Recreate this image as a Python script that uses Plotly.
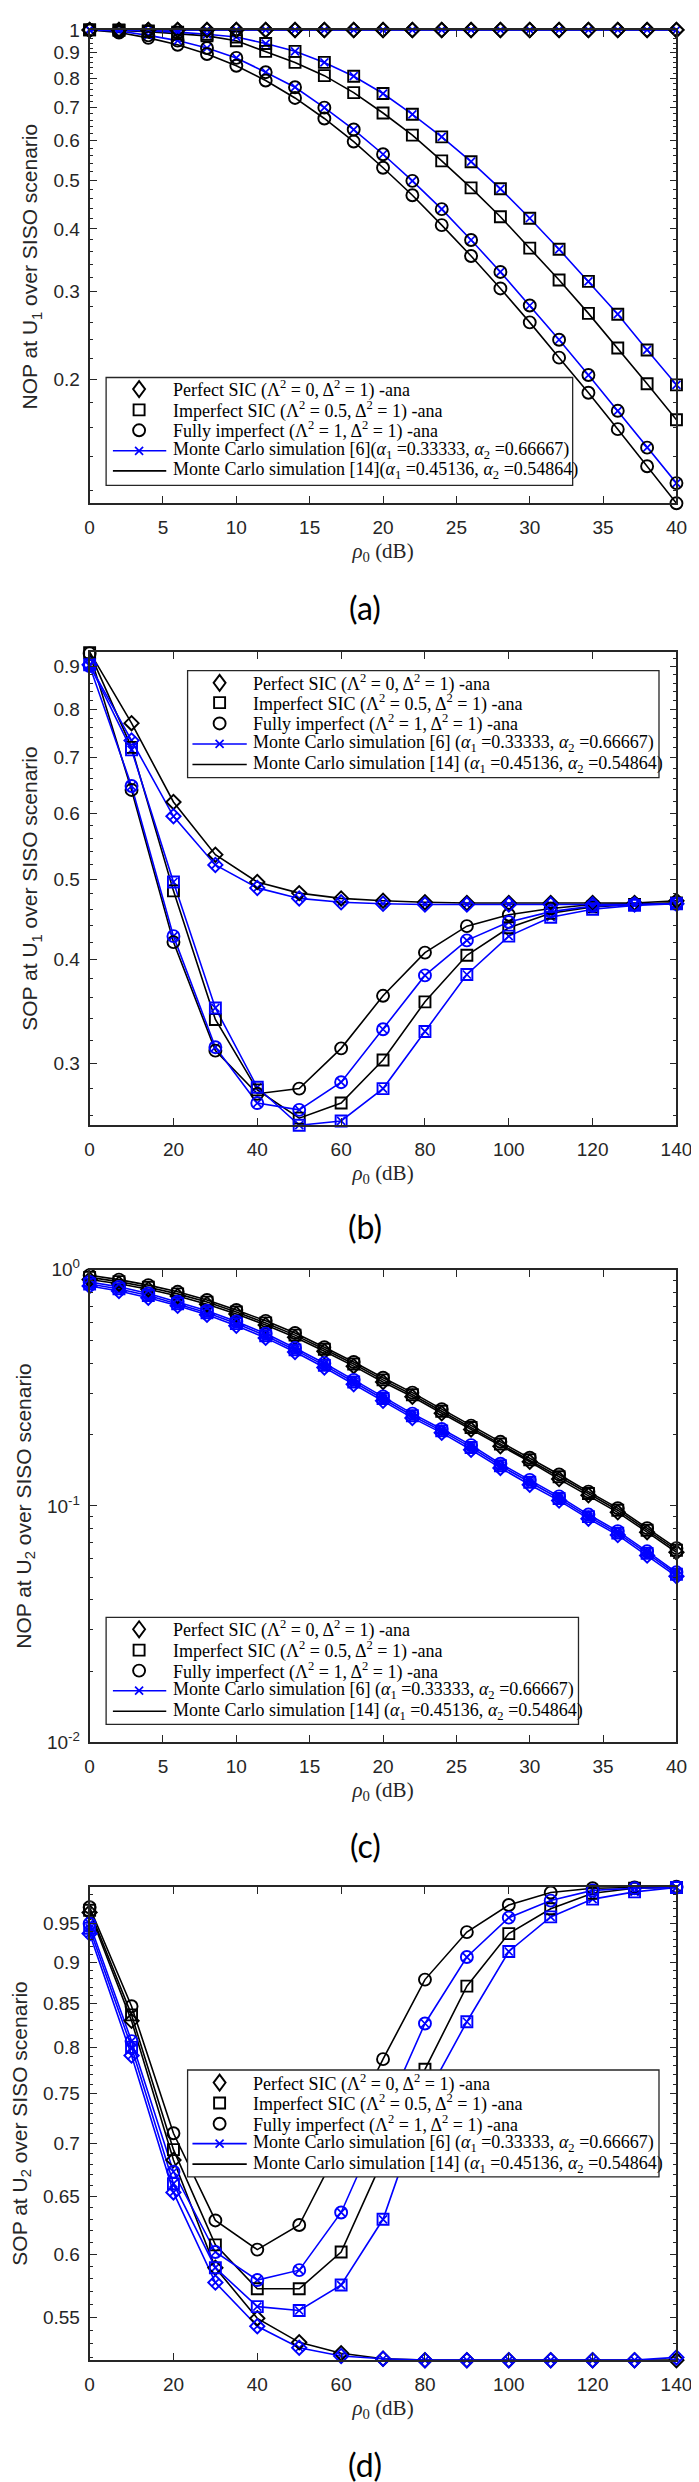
import math
import plotly.graph_objects as go

W, H = 699, 2482

# ---------------- data ----------------
# (a) NOP at U1, x = rho0 (dB)
x_a = [0, 2, 4, 6, 8, 10, 12, 14, 16, 18, 20, 22, 24, 26, 28, 30, 32, 34, 36, 38, 40]
a_perfect_14 = [1.0, 1.0, 1.0, 1.0, 1.0, 1.0, 1.0, 1.0, 1.0, 1.0, 1.0, 1.0, 1.0, 1.0, 1.0, 1.0, 1.0, 1.0, 1.0, 1.0, 1.0]
a_perfect_6 = [1.0, 1.0, 1.0, 1.0, 1.0, 1.0, 1.0, 1.0, 1.0, 1.0, 1.0, 1.0, 1.0, 1.0, 1.0, 1.0, 1.0, 1.0, 1.0, 1.0, 1.0]
a_imperf_14 = [1.0, 0.998, 0.992, 0.983, 0.973, 0.951, 0.906, 0.861, 0.810, 0.749, 0.682, 0.616, 0.547, 0.483, 0.423, 0.366, 0.316, 0.271, 0.231, 0.196, 0.166]
a_imperf_6 = [1.0, 1.0, 0.995, 0.990, 0.980, 0.968, 0.939, 0.906, 0.861, 0.808, 0.746, 0.678, 0.611, 0.545, 0.481, 0.420, 0.364, 0.314, 0.270, 0.229, 0.195]
a_fully_14 = [1.0, 0.988, 0.964, 0.934, 0.895, 0.848, 0.792, 0.731, 0.665, 0.598, 0.530, 0.467, 0.407, 0.353, 0.304, 0.260, 0.221, 0.188, 0.159, 0.134, 0.113]
a_fully_6 = [1.0, 0.995, 0.975, 0.952, 0.920, 0.879, 0.823, 0.768, 0.699, 0.632, 0.564, 0.499, 0.438, 0.380, 0.328, 0.281, 0.240, 0.204, 0.173, 0.146, 0.124]

# (b) SOP at U1
x_b = [0, 10, 20, 30, 40, 50, 60, 70, 80, 90, 100, 110, 120, 130, 140]
b_perfect_14 = [0.938, 0.770, 0.619, 0.535, 0.496, 0.481, 0.474, 0.471, 0.469, 0.468, 0.468, 0.468, 0.468, 0.468, 0.471]
b_perfect_6 = [0.905, 0.734, 0.595, 0.520, 0.488, 0.474, 0.469, 0.467, 0.466, 0.466, 0.466, 0.466, 0.466, 0.466, 0.467]
b_imperf_14 = [0.936, 0.720, 0.484, 0.339, 0.279, 0.258, 0.269, 0.303, 0.356, 0.405, 0.437, 0.455, 0.463, 0.466, 0.468]
b_imperf_6 = [0.905, 0.715, 0.496, 0.350, 0.281, 0.253, 0.256, 0.280, 0.328, 0.384, 0.427, 0.450, 0.460, 0.465, 0.467]
b_fully_14 = [0.934, 0.640, 0.420, 0.311, 0.276, 0.280, 0.313, 0.362, 0.408, 0.439, 0.453, 0.461, 0.466, 0.467, 0.468]
b_fully_6 = [0.902, 0.647, 0.427, 0.314, 0.269, 0.264, 0.285, 0.330, 0.383, 0.422, 0.444, 0.457, 0.464, 0.466, 0.467]

# (c) NOP at U2
x_c = [0, 2, 4, 6, 8, 10, 12, 14, 16, 18, 20, 22, 24, 26, 28, 30, 32, 34, 36, 38, 40]
c_perfect_14 = [0.910, 0.873, 0.827, 0.775, 0.715, 0.650, 0.584, 0.518, 0.452, 0.391, 0.335, 0.290, 0.247, 0.211, 0.179, 0.154, 0.130, 0.111, 0.0940, 0.0775, 0.0637]
c_imperf_14 = [0.929, 0.891, 0.844, 0.791, 0.730, 0.663, 0.596, 0.529, 0.461, 0.399, 0.342, 0.296, 0.252, 0.215, 0.183, 0.157, 0.133, 0.113, 0.0960, 0.0790, 0.0650]
c_fully_14 = [0.948, 0.909, 0.861, 0.807, 0.745, 0.676, 0.608, 0.540, 0.470, 0.407, 0.349, 0.302, 0.257, 0.219, 0.187, 0.160, 0.136, 0.115, 0.0979, 0.0806, 0.0663]
c_perfect_6 = [0.854, 0.813, 0.762, 0.704, 0.645, 0.580, 0.515, 0.449, 0.386, 0.328, 0.279, 0.236, 0.204, 0.173, 0.145, 0.123, 0.1054, 0.0884, 0.0753, 0.0617, 0.0504]
c_imperf_6 = [0.871, 0.830, 0.778, 0.718, 0.658, 0.592, 0.526, 0.458, 0.394, 0.335, 0.285, 0.241, 0.208, 0.177, 0.148, 0.126, 0.1076, 0.0902, 0.0768, 0.0630, 0.0514]
c_fully_6 = [0.888, 0.847, 0.794, 0.732, 0.671, 0.604, 0.537, 0.467, 0.402, 0.342, 0.291, 0.246, 0.212, 0.181, 0.151, 0.129, 0.1098, 0.0920, 0.0783, 0.0643, 0.0524]

# (d) SOP at U2
x_d = [0, 10, 20, 30, 40, 50, 60, 70, 80, 90, 100, 110, 120, 130, 140]
d_perfect_14 = [0.965, 0.830, 0.684, 0.589, 0.549, 0.531, 0.523, 0.519, 0.518, 0.518, 0.518, 0.518, 0.518, 0.518, 0.518]
d_perfect_6 = [0.937, 0.791, 0.654, 0.577, 0.543, 0.527, 0.521, 0.519, 0.518, 0.518, 0.518, 0.518, 0.518, 0.518, 0.520]
d_imperf_14 = [0.968, 0.837, 0.694, 0.608, 0.572, 0.572, 0.602, 0.685, 0.776, 0.871, 0.937, 0.970, 0.991, 0.998, 0.999]
d_imperf_6 = [0.944, 0.800, 0.662, 0.589, 0.558, 0.555, 0.575, 0.630, 0.745, 0.829, 0.914, 0.959, 0.983, 0.993, 0.999]
d_fully_14 = [0.972, 0.847, 0.710, 0.629, 0.604, 0.625, 0.700, 0.787, 0.879, 0.939, 0.975, 0.992, 0.998, 0.999, 1.0]
d_fully_6 = [0.950, 0.807, 0.673, 0.602, 0.579, 0.587, 0.636, 0.725, 0.827, 0.907, 0.958, 0.981, 0.995, 0.998, 0.999]

# tick labels
xt_a = [0, 5, 10, 15, 20, 25, 30, 35, 40]
xt_b = [0, 20, 40, 60, 80, 100, 120, 140]
yt_a = [0.2, 0.3, 0.4, 0.5, 0.6, 0.7, 0.8, 0.9, 1.0]
yl_a = ["0.2", "0.3", "0.4", "0.5", "0.6", "0.7", "0.8", "0.9", "1"]
yt_b = [0.3, 0.4, 0.5, 0.6, 0.7, 0.8, 0.9]
yl_b = ["0.3", "0.4", "0.5", "0.6", "0.7", "0.8", "0.9"]
yt_c = [0.01, 0.1, 1.0]
yl_c = ["10<sup>-2</sup>", "10<sup>-1</sup>", "10<sup>0</sup>"]
yt_d = [0.55, 0.6, 0.65, 0.7, 0.75, 0.8, 0.85, 0.9, 0.95]
yl_d = ["0.55", "0.6", "0.65", "0.7", "0.75", "0.8", "0.85", "0.9", "0.95"]

ytitles = ["NOP at U<sub>1</sub> over SISO scenario", "SOP at U<sub>1</sub> over SISO scenario",
           "NOP at U<sub>2</sub> over SISO scenario", "SOP at U<sub>2</sub> over SISO scenario"]
captions = ["(a)", "(b)", "(c)", "(d)"]

leg_common = ["Perfect SIC (Λ<sup>2</sup> = 0, Δ<sup>2</sup> = 1) -ana",
              "Imperfect SIC (Λ<sup>2</sup> = 0.5, Δ<sup>2</sup> = 1) -ana",
              "Fully imperfect (Λ<sup>2</sup> = 1, Δ<sup>2</sup> = 1) -ana"]
leg_a = leg_common + ["Monte Carlo simulation [6](<i>α</i><sub>1</sub> =0.33333, <i>α</i><sub>2</sub> =0.66667)",
                      "Monte Carlo simulation [14](<i>α</i><sub>1</sub> =0.45136, <i>α</i><sub>2</sub> =0.54864)"]
leg_b = leg_common + ["Monte Carlo simulation [6] (<i>α</i><sub>1</sub> =0.33333, <i>α</i><sub>2</sub> =0.66667)",
                      "Monte Carlo simulation [14] (<i>α</i><sub>1</sub> =0.45136, <i>α</i><sub>2</sub> =0.54864)"]

# ---------------- style ----------------
BLACK = "#000000"
BLUE = "#0000FF"
AXC = "#262626"
SANS = "Liberation Sans, Arial, Helvetica, sans-serif"
SERIF = "Liberation Serif, Times New Roman, serif"
SYM = {"perfect": "diamond-open", "imperf": "square-open", "fully": "circle-open"}
MSIZE = {"perfect": 11, "imperf": 11, "fully": 12}

XDOM = [79 / W, 684 / W]
PANELS = [(9, 487), (637, 1115), (1261, 1738), (1884, 2362)]
CAP_Y = [592, 1217, 1842, 2467]


def py(y):
    return 1 - y / H


fig = go.Figure()


def add_panel(i, x, curves, marker_blue):
    xa = "x" if i == 1 else f"x{i}"
    ya = "y" if i == 1 else f"y{i}"
    for kind, grp, y in curves:
        if grp == "6":
            fig.add_trace(go.Scatter(x=x, y=y, xaxis=xa, yaxis=ya, mode="lines+markers",
                                     name=f"MC [6] {kind}", cliponaxis=False, showlegend=False,
                                     line=dict(color=BLUE, width=1.6),
                                     marker=dict(symbol="x-thin", size=8, color=BLUE,
                                                 line=dict(color=BLUE, width=1.7))))
        else:
            fig.add_trace(go.Scatter(x=x, y=y, xaxis=xa, yaxis=ya, mode="lines",
                                     name=f"MC [14] {kind}", cliponaxis=False, showlegend=False,
                                     line=dict(color=BLACK, width=1.6)))
    for kind, grp, y in curves:
        col = BLUE if (marker_blue and grp == "6") else BLACK
        fig.add_trace(go.Scatter(x=x, y=y, xaxis=xa, yaxis=ya, mode="markers",
                                 name=f"{kind} ana [{grp}]", cliponaxis=False, showlegend=False,
                                 marker=dict(symbol=SYM[kind], size=MSIZE[kind], color=col,
                                             line=dict(width=1.9))))


add_panel(1, x_a, [("perfect", "14", a_perfect_14), ("imperf", "14", a_imperf_14), ("fully", "14", a_fully_14),
                   ("perfect", "6", a_perfect_6), ("imperf", "6", a_imperf_6), ("fully", "6", a_fully_6)], False)
add_panel(2, x_b, [("perfect", "14", b_perfect_14), ("imperf", "14", b_imperf_14), ("fully", "14", b_fully_14),
                   ("perfect", "6", b_perfect_6), ("imperf", "6", b_imperf_6), ("fully", "6", b_fully_6)], True)
add_panel(3, x_c, [("perfect", "14", c_perfect_14), ("imperf", "14", c_imperf_14), ("fully", "14", c_fully_14),
                   ("perfect", "6", c_perfect_6), ("imperf", "6", c_imperf_6), ("fully", "6", c_fully_6)], True)
add_panel(4, x_d, [("perfect", "14", d_perfect_14), ("imperf", "14", d_imperf_14), ("fully", "14", d_fully_14),
                   ("perfect", "6", d_perfect_6), ("imperf", "6", d_imperf_6), ("fully", "6", d_fully_6)], True)


def tight_log(*series):
    vals = [v for s in series for v in s]
    return [math.log10(min(vals)), math.log10(max(vals))]


def minor_vals(lo, hi, step, majors):
    out = []
    n = int(round((hi - lo) / step))
    for k in range(n + 1):
        v = round(lo + k * step, 4)
        if all(abs(v - m) > 1e-6 for m in majors):
            out.append(v)
    return out


yranges = [
    tight_log(a_perfect_14, a_perfect_6, a_imperf_14, a_imperf_6, a_fully_14, a_fully_6),
    tight_log(b_perfect_14, b_perfect_6, b_imperf_14, b_imperf_6, b_fully_14, b_fully_6),
    [-2, 0],
    tight_log(d_perfect_14, d_perfect_6, d_imperf_14, d_imperf_6, d_fully_14, d_fully_6),
]
yminor = [
    minor_vals(0.12, 0.98, 0.02, yt_a),
    minor_vals(0.26, 0.92, 0.02, yt_b),
    [0.02, 0.03, 0.04, 0.05, 0.06, 0.07, 0.08, 0.09, 0.2, 0.3, 0.4, 0.5, 0.6, 0.7, 0.8, 0.9],
    minor_vals(0.52, 0.99, 0.01, yt_d),
]
yticks = [(yt_a, yl_a), (yt_b, yl_b), (yt_c, yl_c), (yt_d, yl_d)]
xticks = [xt_a, xt_b, xt_a, xt_b]
xranges = [[0, 40], [0, 140], [0, 40], [0, 140]]

axis_common = dict(showline=True, linecolor=AXC, linewidth=1.8, mirror="ticks", ticks="inside",
                   ticklen=7, tickwidth=1.2, tickcolor=AXC, showgrid=False, zeroline=False,
                   tickfont=dict(family=SANS, size=19, color=AXC))

layout = {}
for i in range(4):
    top, bot = PANELS[i]
    sx = "" if i == 0 else str(i + 1)
    layout[f"xaxis{sx}"] = dict(axis_common, domain=XDOM, anchor=f"y{sx}", range=xranges[i],
                                tickmode="array", tickvals=xticks[i], ticklabelstandoff=6,
                                title=dict(text="<i>ρ</i><sub>0</sub> (dB)", standoff=6,
                                           font=dict(family=SERIF, size=21, color=AXC)))
    layout[f"yaxis{sx}"] = dict(axis_common, domain=[py(bot), py(top)], anchor=f"x{sx}", type="log",
                                range=yranges[i], tickmode="array", tickvals=yticks[i][0],
                                ticktext=yticks[i][1], ticklabelstandoff=4,
                                minor=dict(ticks="inside", ticklen=3.5, tickwidth=1, tickcolor=AXC,
                                           tickmode="array", tickvals=yminor[i], showgrid=False),
                                title=dict(text=ytitles[i], standoff=10,
                                           font=dict(family=SANS, size=21, color=AXC)))

shapes = []
annotations = []


def marker_shape(kind, cx, cy, color):
    s = dict(xref="paper", yref="paper", xsizemode="pixel", ysizemode="pixel",
             xanchor=cx / W, yanchor=py(cy), layer="above", line=dict(color=color, width=1.9))
    if kind == "fully":
        s.update(type="circle", x0=-6, x1=6, y0=-6, y1=6)
    elif kind == "imperf":
        s.update(type="rect", x0=-5.5, x1=5.5, y0=-5.5, y1=5.5)
    elif kind == "perfect":
        s.update(type="path", path="M0,8 L6,0 L0,-8 L-6,0 Z")
    else:
        s.update(type="path", path="M-4,-4 L4,4 M-4,4 L4,-4", line=dict(color=color, width=1.7))
    return s


def add_legend(box, sym_x, lx0, lx1, text_x, rows, texts):
    bx0, bx1, by0, by1 = box
    shapes.append(dict(type="rect", xref="paper", yref="paper", x0=bx0 / W, x1=bx1 / W,
                       y0=py(by1), y1=py(by0), fillcolor="white",
                       line=dict(color=AXC, width=1.3), layer="above"))
    for kind, ry in zip(["perfect", "imperf", "fully"], rows[:3]):
        shapes.append(marker_shape(kind, sym_x, ry, BLACK))
    for ry, col in [(rows[3], BLUE), (rows[4], BLACK)]:
        shapes.append(dict(type="line", xref="paper", yref="paper", x0=lx0 / W, x1=lx1 / W,
                           y0=py(ry), y1=py(ry), line=dict(color=col, width=1.6), layer="above"))
    shapes.append(marker_shape("x", sym_x, rows[3], BLUE))
    for t, ry in zip(texts, rows):
        annotations.append(dict(text=t, x=text_x / W, y=py(ry), xref="paper", yref="paper",
                                xanchor="left", yanchor="middle", showarrow=False,
                                font=dict(family=SERIF, size=18, color=BLACK)))


add_legend((96, 577, 360, 469), 130, 103, 158, 163, [371.7, 392.7, 413.3, 434, 454.3], leg_a)
add_legend((180, 666, 656, 764), 213, 185, 241, 245, [668.3, 688.3, 709.3, 730, 750.7], leg_b)
add_legend((96, 583, 1612, 1720), 130, 103, 158, 163, [1624, 1645, 1665.7, 1686, 1706.7], leg_b)
add_legend((180, 666, 2069, 2177), 213, 185, 241, 245, [2081.7, 2102.3, 2123.3, 2143.3, 2164], leg_b)

for cap, cy in zip(captions, CAP_Y):
    annotations.append(dict(text=cap, x=363 / W, y=py(cy), xref="paper", yref="paper",
                            xanchor="center", yanchor="middle", showarrow=False,
                            font=dict(family="Lato, Open Sans, sans-serif", size=32, color=BLACK)))

fig.update_layout(width=W, height=H, margin=dict(l=0, r=0, t=0, b=0),
                  paper_bgcolor="white", plot_bgcolor="white", showlegend=False,
                  shapes=shapes, annotations=annotations, **layout)

fig.write_html("out.html")
